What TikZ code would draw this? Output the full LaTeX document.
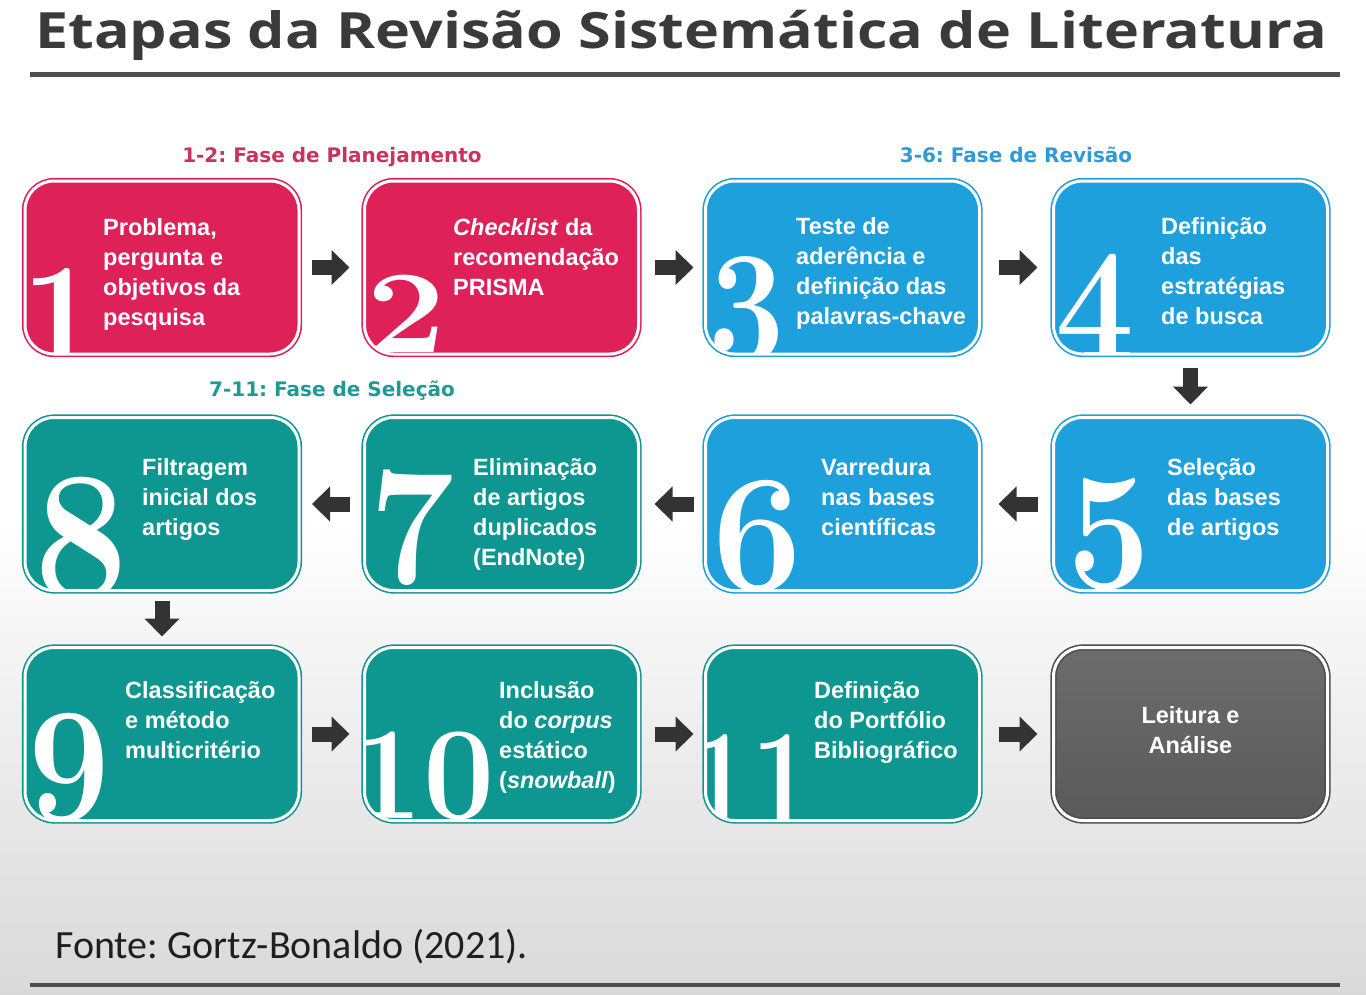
\documentclass[tikz,border=0pt]{standalone}
\usepackage{fontspec}
\setmainfont{Liberation Sans}
\newfontfamily\titlefont{Open Sans}
\newfontfamily\labfont{DejaVu Sans}
\newfontfamily\fontefont{Carlito}
\newfontfamily\digfont{Latin Modern Roman}
\usetikzlibrary{arrows.meta,calc}
\frenchspacing
\definecolor{cred}{HTML}{DE2158}
\definecolor{cblue}{HTML}{1EA0DC}
\definecolor{cteal}{HTML}{0E9691}
\definecolor{graytop}{HTML}{6C6C6C}
\definecolor{graybot}{HTML}{5A5A5A}
\definecolor{cgrayline}{HTML}{4E4E4E}
\definecolor{lred}{HTML}{C9335C}
\definecolor{lblue}{HTML}{2E9AD6}
\definecolor{lteal}{HTML}{1E9A94}
\definecolor{titlec}{HTML}{3A3A3A}
\definecolor{arrowc}{HTML}{333333}
\definecolor{bgbot}{HTML}{D9D9D9}
\newcommand\bigdig[6]{%
  \begin{scope}
    \clip[rounded corners=27.5pt] ($(#1.south west)+(1.5,-1.5)$) rectangle ($(#1.north east)+(-1.5,1.5)$);
    \node[digitst, font=\digfont\bfseries\fontsize{#2}{#2}\selectfont] at (#3,#4) {\rlap{\scalebox{#5}[1]{#6}}};
  \end{scope}}
\tikzset{
  box/.style={rounded corners=29pt, minimum width=274pt, minimum height=173pt,
    inner sep=0pt, outer sep=0pt, line width=1.6pt, double=white,
    double distance=3pt, draw=#1, fill=#1},
  btxt/.style={anchor=north west, inner sep=0pt, align=left, text=white,
    font=\bfseries\fontsize{23.5}{30}\selectfont},
  digitst/.style={anchor=north west, inner sep=0pt, text=white},
  blk/.style={draw=arrowc, line width=15pt, -{Triangle[width=34pt,length=18pt]}},
  phase/.style={anchor=base, inner sep=0pt, font=\labfont\bfseries\fontsize{20}{20}\selectfont},
}
\begin{document}
\begin{tikzpicture}[x=1pt,y=-1pt]
\useasboundingbox (0,0) rectangle (1366,994);
\fill[white] (0,0) rectangle (1366,520);
\shade[top color=white,bottom color=bgbot] (0,519) rectangle (1366,994);

% title
\node[anchor=base west, inner sep=0pt, text=titlec,
  font=\titlefont\bfseries\fontsize{50}{50}\selectfont] (title) at (35,48)
  {\scalebox{1.185}[1]{Etapas da Revisão Sistemática de Literatura}};
\draw[titlec!90, line width=5pt] (30,74) -- (1340,74);

% phase labels
\node[phase, text=lred] (lab1) at (332,162) {1-2: Fase de Planejamento};
\node[phase, text=lblue] (lab2) at (1016,162) {3-6: Fase de Revisão};
\node[phase, text=lteal] (lab3) at (332,396) {7-11: Fase de Seleção};

% boxes
\node[box=cred] (b1) at (162,267.5) {};
\node[box=cred] (b2) at (501.5,267.5) {};
\node[box=cblue] (b3) at (842.5,267.5) {};
\node[box=cblue] (b4) at (1190.5,267.5) {};
\node[box=cblue] (b5) at (1190.5,504) {};
\node[box=cblue] (b6) at (842.5,504) {};
\node[box=cteal] (b7) at (501.5,504) {};
\node[box=cteal] (b8) at (162,504) {};
\node[box=cteal] (b9) at (162,734) {};
\node[box=cteal] (b10) at (501.5,734) {};
\node[box=cteal] (b11) at (842.5,734) {};
\node[box=graybot, draw=cgrayline, top color=graytop, bottom color=graybot] (b12) at (1190.5,734) {};

% big digits
\bigdig{b1}{160}{21}{268}{0.88}{1}
\bigdig{b2}{118}{366}{275}{1.2}{2}
\bigdig{b3}{160}{708}{256}{0.85}{3}
\bigdig{b4}{160}{1055}{254}{0.88}{4}
\bigdig{b5}{168}{1067}{478}{0.88}{5}
\bigdig{b6}{168}{712}{480}{0.95}{6}
\bigdig{b7}{168}{369}{470}{0.9}{7}
\bigdig{b8}{185}{34}{477}{0.9}{8}
\bigdig{b9}{165}{28}{713}{0.88}{9}
\bigdig{b10}{132}{351}{732}{0.96}{10}
\bigdig{b11}{140}{689}{734}{0.79}{11}

% box texts
\node[btxt] (t1) at (103,218) {Problema,\\pergunta e\\objetivos da\\pesquisa};
\node[btxt] (t2) at (453,218) {\textit{Checklist} da\\recomendação\\PRISMA};
\node[btxt] (t3) at (796,217) {Teste de\\aderência e\\definição das\\palavras-chave};
\node[btxt] (t4) at (1161,217) {Definição\\das\\estratégias\\de busca};
\node[btxt] (t5) at (1167,458) {Seleção\\das bases\\de artigos};
\node[btxt] (t6) at (821,458) {Varredura\\nas bases\\científicas};
\node[btxt] (t7) at (473,458) {Eliminação\\de artigos\\duplicados\\(EndNote)};
\node[btxt] (t8) at (142,458) {Filtragem\\inicial dos\\artigos};
\node[btxt] (t9) at (125,681) {Classificação\\e método\\multicritério};
\node[btxt] (t10) at (499,681) {Inclusão\\do \textit{corpus}\\estático\\(\textit{snowball})};
\node[btxt] (t11) at (814,681) {Definição\\do Portfólio\\Bibliográfico};
\node[btxt, anchor=center, align=center] (t12) at ($(b12.center)+(0,-4)$) {Leitura e\\Análise};

% arrows
\draw[blk, shorten <=13pt, shorten >=15pt] (b1) -- (b2);
\draw[blk, shorten <=16pt, shorten >=12pt] (b2) -- (b3);
\draw[blk, shorten <=19pt, shorten >=16pt] (b3) -- (b4);
\draw[blk, shorten <=14pt, shorten >=13pt] (b4) -- (b5);
\draw[blk, shorten <=16pt, shorten >=19pt] (b5) -- (b6);
\draw[blk, shorten <=12pt, shorten >=16pt] (b6) -- (b7);
\draw[blk, shorten <=15pt, shorten >=13pt] (b7) -- (b8);
\draw[blk, shorten <=10pt, shorten >=11pt] (b8) -- (b9);
\draw[blk, shorten <=13pt, shorten >=15pt] (b9) -- (b10);
\draw[blk, shorten <=16pt, shorten >=12pt] (b10) -- (b11);
\draw[blk, shorten <=19pt, shorten >=16pt] (b11) -- (b12);

% source
\node[anchor=base west, inner sep=0pt, text=black!88,
  font=\fontefont\fontsize{40}{40}\selectfont] (fonte) at (55,958)
  {Fonte: Gortz-Bonaldo (2021).};
\draw[titlec!90, line width=4pt] (30,985) -- (1340,985);
\end{tikzpicture}
\end{document}
